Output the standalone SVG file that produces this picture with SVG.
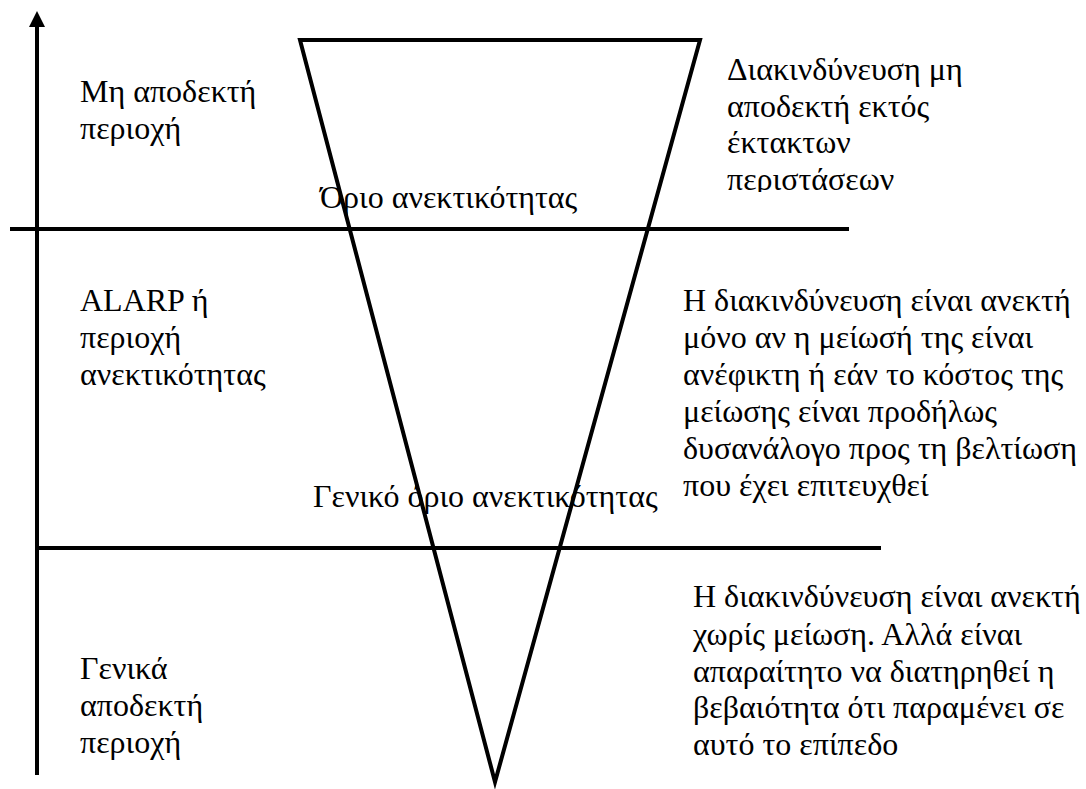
<svg xmlns="http://www.w3.org/2000/svg" width="1086" height="789" viewBox="0 0 1086 789">
  <style>
    .ln { stroke: #000; stroke-width: 4; fill: none; }
    .tx { font-family: "Liberation Serif", "Times New Roman", serif; font-size: 32px; fill: #000; }
  </style>
  <defs>
    <clipPath id="clipTop">
      <rect x="720" y="50" width="300" height="142"/>
    </clipPath>
  </defs>
  <rect width="1086" height="789" fill="#fff"/>

  <!-- risk axis -->
  <g id="axis">
    <line class="ln" x1="37" y1="775" x2="37" y2="24"/>
    <polygon points="37,11 29,27 45,27" fill="#000"/>
  </g>

  <!-- tolerability boundaries -->
  <g id="boundaries">
    <line class="ln" x1="10" y1="229" x2="849" y2="229"/>
    <line class="ln" x1="38" y1="548" x2="881" y2="548"/>
  </g>

  <!-- inverted risk triangle -->
  <g id="triangle">
    <polygon class="ln" points="300,40 700,40 495,782" stroke-linejoin="miter"/>
  </g>

  <!-- region labels -->
  <g id="region-unacceptable">
    <text class="tx" x="80" y="102">Μη αποδεκτή</text>
    <text class="tx" x="80" y="139">περιοχή</text>
  </g>
  <g id="note-unacceptable" clip-path="url(#clipTop)">
    <text class="tx" x="727" y="80">Διακινδύνευση μη</text>
    <text class="tx" x="727" y="117">αποδεκτή εκτός</text>
    <text class="tx" x="727" y="153">έκτακτων</text>
    <text class="tx" x="727" y="190">περιστάσεων</text>
  </g>
  <g id="limit-tolerable">
    <text class="tx" x="320" y="208">Όριο ανεκτικότητας</text>
  </g>
  <g id="region-alarp">
    <text class="tx" x="80" y="311">ALARP ή</text>
    <text class="tx" x="80" y="348">περιοχή</text>
    <text class="tx" x="80" y="385">ανεκτικότητας</text>
  </g>
  <g id="note-alarp">
    <text class="tx" x="683" y="311">Η διακινδύνευση είναι ανεκτή</text>
    <text class="tx" x="683" y="348">μόνο αν η μείωσή της είναι</text>
    <text class="tx" x="683" y="385">ανέφικτη ή εάν το κόστος της</text>
    <text class="tx" x="683" y="422">μείωσης είναι προδήλως</text>
    <text class="tx" x="683" y="459">δυσανάλογο προς τη βελτίωση</text>
    <text class="tx" x="683" y="496">που έχει επιτευχθεί</text>
  </g>
  <g id="limit-general">
    <text class="tx" x="313" y="507">Γενικό όριο ανεκτικότητας</text>
  </g>
  <g id="region-acceptable">
    <text class="tx" x="80" y="679">Γενικά</text>
    <text class="tx" x="80" y="716">αποδεκτή</text>
    <text class="tx" x="80" y="753">περιοχή</text>
  </g>
  <g id="note-acceptable">
    <text class="tx" x="693" y="607">Η διακινδύνευση είναι ανεκτή</text>
    <text class="tx" x="693" y="645">χωρίς μείωση. Αλλά είναι</text>
    <text class="tx" x="693" y="682">απαραίτητο να διατηρηθεί η</text>
    <text class="tx" x="693" y="718">βεβαιότητα ότι παραμένει σε</text>
    <text class="tx" x="693" y="755">αυτό το επίπεδο</text>
  </g>
</svg>
